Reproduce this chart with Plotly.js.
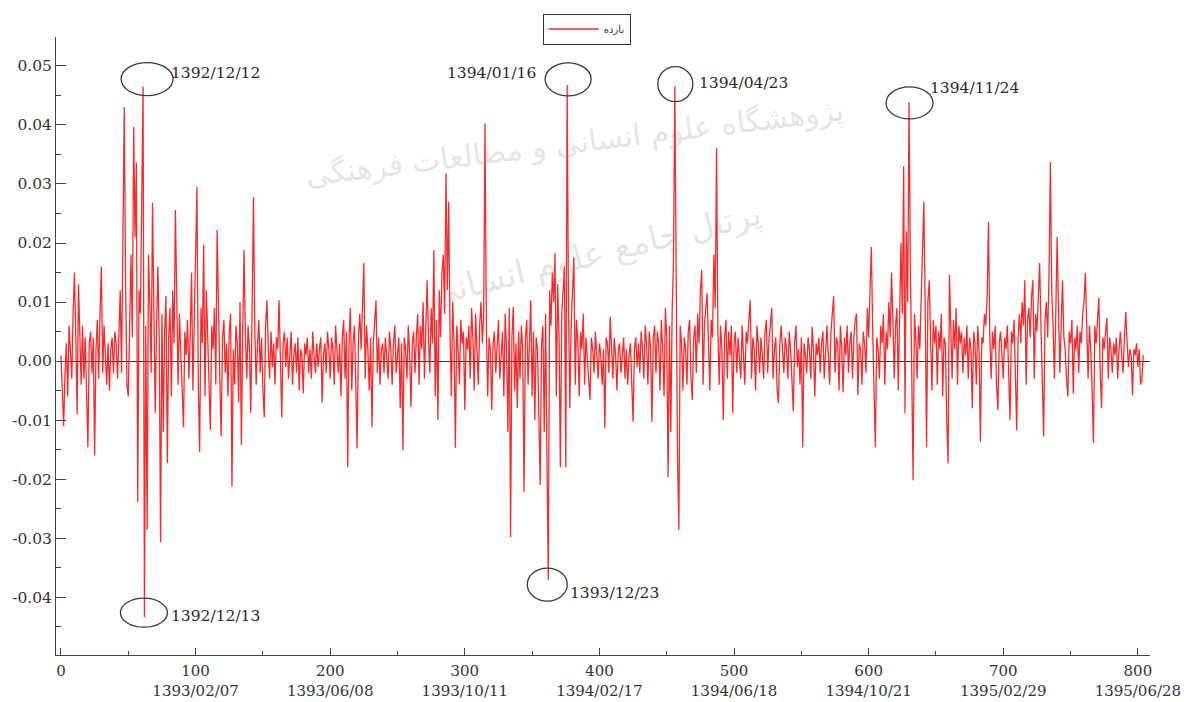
<!DOCTYPE html>
<html>
<head>
<meta charset="utf-8">
<script src="https://cdn.plot.ly/plotly-3.0.1.min.js"></script>
<style>
html,body{margin:0;padding:0;background:#fff;}
#chart{width:1184px;height:702px;}
</style>
</head>
<body>
<div id="chart"></div>
<script>
// Daily return series (بازده)
const returns = [
.001,-.004,-.011,-.002,.003,-.006,.006,.002,-.003,.008,.015,.004,-.009,.013,.002,-.004,.006,-.003,.004,-.007,
-.0146,.003,.005,-.002,.004,-.016,.002,.007,-.003,.008,.016,-.002,.006,.001,-.004,.003,-.005,.002,.004,-.002,
.005,.003,-.003,.004,.012,-.002,.025,.043,.013,-.004,-.006,.008,.018,.004,.0397,.021,.0336,-.0239,.012,.008,
.032,.0465,-.0434,.006,-.0286,.018,.010,-.002,.0268,.012,-.0088,.006,.016,.003,-.0307,.008,-.012,.005,.011,-.0173,
.004,.009,-.006,.012,.003,.0256,.011,-.004,.008,.002,-.006,-.0112,.005,.001,.007,-.003,.004,.015,-.005,.008,
.019,.0295,-.004,-.0154,.009,.003,.0197,-.006,.012,.004,-.008,-.0117,.006,.002,.009,-.004,.0222,.005,-.003,-.0128,
.004,.007,-.002,.003,-.006,.005,.008,-.0213,.002,-.004,.006,.003,-.007,.010,-.0142,.005,.0188,.004,-.003,.006,
.002,-.0088,.012,.0278,.005,-.004,.003,.007,-.002,.004,-.005,-.0095,.006,.0103,.002,-.003,.005,-.001,.003,-.004,
.004,.002,.0103,-.002,-.0095,.003,.005,-.001,.004,-.003,.002,.005,-.004,.001,.003,-.002,.004,-.005,.002,.001,
-.0055,.003,.001,.004,-.002,.002,-.003,.005,.001,-.002,.003,-.001,.002,.004,-.007,.001,.003,-.002,.005,.002,
-.003,.004,.002,-.004,.006,.001,-.002,.003,-.006,.004,.007,-.003,.005,-.018,.004,.009,-.005,.003,.006,-.004,
-.0148,.004,.008,.002,.011,.0166,-.003,.006,.002,-.005,.004,-.0112,.003,.006,.0103,-.002,.004,-.004,.002,.003,
-.002,.004,.001,-.003,.005,.002,-.004,.003,.006,-.002,.001,.004,-.008,.003,-.0151,.004,.002,-.003,.006,.001,
-.0078,.003,.005,-.002,.004,.008,-.004,.006,.002,.010,-.003,.005,.0137,.004,-.002,.009,.003,.0188,-.006,.007,
-.010,.012,.004,.015,.018,.008,.0318,.012,.027,.005,-.006,.010,.003,-.0147,.006,.002,-.004,.007,.003,.005,
-.0083,.004,.002,.006,-.003,.009,.004,-.005,.008,.002,-.004,.006,.010,.003,.008,.0403,.006,-.006,.004,.002,
-.0083,.003,.005,-.002,.004,.007,-.003,.002,.005,-.006,.008,.002,-.012,.009,-.0298,.004,.0092,-.005,.003,-.008,
.005,-.003,.006,.002,-.0222,.004,.007,-.004,.003,.0103,-.006,.005,-.010,.004,.002,-.008,-.021,.003,.006,-.012,
.008,-.016,-.0371,.012,.006,.015,.010,.0183,-.006,.013,.004,-.018,.008,.012,.016,-.018,.0468,.010,-.008,.006,
.012,.0176,-.004,.007,.003,-.006,.005,.002,.008,-.004,.004,.001,-.003,-.0066,.004,.002,-.002,.005,.001,-.003,
.003,.001,-.004,.002,-.0114,.004,.003,-.002,.0075,.002,-.003,.004,.001,-.005,.002,.003,-.002,.001,.004,-.003,
.002,-.004,.001,.003,-.006,-.0103,.002,.004,-.001,.003,-.002,.005,.002,-.003,.006,.003,-.004,.005,.002,-.0103,
.004,.006,-.002,.005,.003,-.005,.007,.002,-.006,.009,.004,-.0197,.006,-.012,.008,.017,.0465,.010,-.016,-.0286,
.006,.003,-.005,.004,.002,-.004,.005,.007,-.003,-.0066,.004,.006,-.002,.008,.003,.012,.0154,-.004,.006,.009,
.0115,.003,-.005,.007,.004,.018,.009,.0361,.005,-.004,.006,.002,-.010,.004,.007,-.003,.005,.001,.006,-.0088,
.003,.005,-.002,.004,.001,-.003,.006,.002,-.004,.005,.003,.007,.0103,-.003,.004,.002,-.005,.006,.003,-.002,
.004,.001,-.003,.005,.007,-.002,.004,.006,.009,-.003,.002,.004,-.005,-.0071,.003,.006,.001,-.002,.004,.002,
-.003,.005,.002,-.004,-.0085,.003,.006,-.001,.002,-.004,.004,-.0146,.003,.001,-.002,.004,.002,-.003,.0058,.002,
-.006,.003,.001,.004,-.002,.003,.005,-.003,.002,.006,.001,-.004,.005,.008,.011,-.002,.004,.003,-.005,.006,
.002,-.0053,.004,.001,.006,-.002,.003,.005,-.003,.004,.007,.008,-.0058,.003,.002,-.004,.005,.003,-.002,.009,
.004,.012,.0193,.005,-.006,-.0146,.004,.002,-.003,.006,.003,.008,-.004,.005,.002,.010,.004,.015,.007,-.003,
.006,.009,-.005,.012,.020,.008,.033,-.0088,.022,.010,.0439,.016,-.006,-.0202,.008,.004,-.003,.006,.002,.012,
.018,.027,.009,-.0146,.010,.0137,.004,-.005,.007,.003,.006,-.004,.005,.002,.008,-.006,.004,.003,-.010,-.0173,
.0146,.005,-.003,.007,.002,.009,-.004,.006,.003,.005,-.002,.004,.001,.006,-.003,.004,.002,-.008,.005,.003,
-.004,.006,.002,-.0137,.004,.003,.008,.006,.011,.0236,.004,-.003,.005,.002,.006,-.004,-.0083,.003,.005,.001,
-.003,.004,.002,.006,-.004,-.010,.005,.003,.007,-.002,-.0117,.004,.008,.003,.010,.006,.0137,-.004,.007,.009,
.004,.011,.0137,-.003,.008,.005,.012,.0166,.006,-.004,-.0128,.007,.010,.004,.015,.0337,.012,.006,-.003,.008,
.021,.009,-.002,.006,.0137,.004,.002,-.003,-.006,.005,.003,.007,-.0055,.004,.002,.006,-.002,.005,.003,.008,
.010,.0149,.004,-.003,.006,.002,-.005,-.0139,.006,.003,.007,.0107,-.002,-.008,.004,.002,.005,.0073,-.003,.004,
.002,-.002,.003,.001,.004,-.003,.002,.005,.001,-.002,.004,.0083,.003,-.001,.002,.001,-.0058,.002,.001,.003,
-.001,.002,-.004,-.0032,.001
];

const seriesName = 'بازده';
const xTickValues = [0, 100, 200, 300, 400, 500, 600, 700, 800];
const xTickDates = ['', '1393/02/07', '1393/06/08', '1393/10/11', '1394/02/17', '1394/06/18', '1394/10/21', '1395/02/29', '1395/06/28'];
const yTickValues = [-0.04, -0.03, -0.02, -0.01, 0, 0.01, 0.02, 0.03, 0.04, 0.05];
const yTickLabels = ['-0.04', '-0.03', '-0.02', '-0.01', '0.00', '0.01', '0.02', '0.03', '0.04', '0.05'];
const peakLabels = ['1392/12/12', '1392/12/13', '1394/01/16', '1394/04/23', '1394/11/24', '1393/12/23'];
const peakIndex = [61, 62, 376, 456, 630, 362];
const watermarkLines = ['پژوهشگاه علوم انسانی و مطالعات فرهنگی', 'پرتال جامع علوم انسانی'];

// layout helpers (pixel offsets of the ellipse and label around each marked peak)
const peakStyle = [
  {x0: -22, x1: 30, y0: -9, y1: 24, anchor: 'left', dx: 26, dy: 14},
  {x0: -24, x1: 23, y0: -10, y1: 19, anchor: 'left', dx: 25, dy: 1},
  {x0: -22, x1: 24, y0: -11, y1: 22, anchor: 'right', dx: -29, dy: 12},
  {x0: -17, x1: 18, y0: -15, y1: 20, anchor: 'left', dx: 22, dy: 4},
  {x0: -23, x1: 24, y0: -17, y1: 15, anchor: 'left', dx: 19, dy: 14},
  {x0: -21, x1: 19, y0: -21, y1: 12, anchor: 'left', dx: 20, dy: -13}
];

const xIndex = returns.map((_, i) => i);
const serif = 'DejaVu Serif, Liberation Serif, serif';

const trace = {
  x: xIndex,
  y: returns,
  type: 'scatter',
  mode: 'lines',
  name: seriesName,
  line: {color: 'rgba(245,20,20,0.9)', width: 1.3},
  hoverinfo: 'skip'
};

const shapes = peakIndex.map((idx, k) => ({
  type: 'circle',
  xref: 'x', yref: 'y',
  xsizemode: 'pixel', ysizemode: 'pixel',
  xanchor: idx, yanchor: returns[idx],
  x0: peakStyle[k].x0, x1: peakStyle[k].x1,
  y0: peakStyle[k].y0, y1: peakStyle[k].y1,
  line: {color: '#3a3a3a', width: 1.3}
}));

const annotations = peakIndex.map((idx, k) => ({
  x: idx, y: returns[idx], xref: 'x', yref: 'y',
  text: peakLabels[k], showarrow: false,
  xanchor: peakStyle[k].anchor, yanchor: 'middle',
  xshift: peakStyle[k].dx, yshift: peakStyle[k].dy,
  font: {family: serif, size: 15.5, color: '#2a2a2a'}
}));

annotations.push(
  {xref: 'paper', yref: 'paper', x: 0.474, y: 0.915, text: watermarkLines[0], showarrow: false,
   textangle: -7, font: {family: 'DejaVu Sans, Noto Sans', size: 30, color: 'rgba(150,150,150,0.25)'}},
  {xref: 'paper', yref: 'paper', x: 0.493, y: 0.752, text: watermarkLines[1], showarrow: false,
   textangle: -14, font: {family: 'DejaVu Sans, Noto Sans', size: 34, color: 'rgba(150,150,150,0.25)'}}
);

const layout = {
  width: 1184, height: 702,
  margin: {l: 56, r: 34, t: 37, b: 47},
  paper_bgcolor: '#ffffff', plot_bgcolor: '#ffffff',
  showlegend: true,
  legend: {
    x: 0.445, y: 1.038, xanchor: 'left', yanchor: 'top',
    bordercolor: '#333', borderwidth: 1, bgcolor: '#fff',
    font: {family: 'DejaVu Sans, Noto Sans', size: 10, color: '#333'},
    itemwidth: 50, entrywidth: 95, tracegroupgap: 0
  },
  xaxis: {
    range: [-3.7, 809],
    showline: true, linecolor: '#444', linewidth: 1,
    ticks: 'inside', ticklen: 7, tickcolor: '#444', tickwidth: 1,
    tickvals: xTickValues,
    ticktext: xTickValues.map((v, i) => xTickDates[i] ? v + '<br>' + xTickDates[i] : String(v)),
    tickfont: {family: serif, size: 15, color: '#333'},
    ticklabelstandoff: 2,
    showgrid: false, zeroline: false,
    minor: {ticks: 'inside', ticklen: 4, tickcolor: '#444', dtick: 50, tick0: 0, showgrid: false}
  },
  yaxis: {
    range: [-0.0498, 0.0549],
    showline: true, linecolor: '#444', linewidth: 1,
    ticks: 'inside', ticklen: 10, tickcolor: '#444', tickwidth: 1,
    tickvals: yTickValues, ticktext: yTickLabels,
    tickfont: {family: serif, size: 15.5, color: '#333'},
    showgrid: false,
    zeroline: true, zerolinecolor: '#333', zerolinewidth: 1,
    minor: {ticks: 'inside', ticklen: 5, tickcolor: '#444', dtick: 0.005, tick0: 0, showgrid: false}
  },
  shapes: shapes,
  annotations: annotations
};

Plotly.newPlot('chart', [trace], layout, {displayModeBar: false, staticPlot: true});
</script>
</body>
</html>
